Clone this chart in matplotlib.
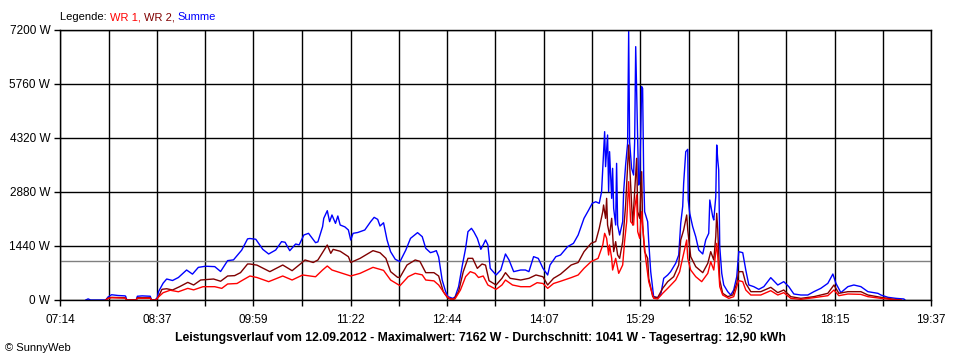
import matplotlib
matplotlib.use("Agg")
import matplotlib.pyplot as plt
from matplotlib.ticker import FixedLocator, NullFormatter

# Leistungsverlauf 12.09.2012, Zeit in Minuten seit Mitternacht
sum_t = [456, 458, 460, 473, 475, 478, 483.5, 489.5, 490, 491, 499, 500, 504, 511, 512,
         515, 517, 518, 522, 525, 530, 535, 542, 547, 552, 558, 566, 571, 577, 582, 589,
         594, 596, 601, 607, 612, 618, 623, 626, 630, 635, 638, 642, 646, 652, 654, 658,
         659, 662, 664, 666, 669, 671, 673, 677, 680, 682, 684, 688, 694, 699, 702, 705,
         707, 710, 713, 716, 720, 724, 729, 733, 739, 743, 746, 750, 753, 755, 757, 760,
         763, 765, 769, 771, 774, 777, 780, 782, 785, 787, 790, 793, 795, 797, 799, 801,
         806, 810, 814, 817, 821, 827, 831, 834, 838, 842, 846, 850, 852, 857, 861, 867,
         872, 876, 881, 885, 888, 891, 894, 896.0, 897.7, 898.6, 899.4, 901.1, 902.0, 902.8,
         904.6, 905.4, 906.3, 908.0, 908.8, 909.7, 911.4, 914.0, 914.8, 916.5, 918.2, 919.1,
         919.9, 921.6, 923.3, 924.2, 925.1, 926.8, 927.6, 928.5, 930.2, 931.0, 931.9, 932.7,
         935.3, 936.2, 937.9, 940.4, 943.8, 946.4, 949.0, 952.4, 954.9, 959.2, 961.8, 963.5,
         965.2, 966.0, 967.8, 969.5, 969.9, 971.2, 973.7, 976.3, 978.9, 982.3, 984.8, 987.4,
         988.3, 990.8, 991.7, 993.4, 994.2, 995.1, 995.9, 996.8, 998.5, 1000.2, 1003.6,
         1006.2, 1008.7, 1011.3, 1013.0, 1016.4, 1019.0, 1021.6, 1025.8, 1030.1, 1034.4,
         1040.3, 1046.3, 1051.4, 1055.7, 1060.0, 1066.0, 1071.9, 1077.1, 1083.0, 1089.0,
         1093.3, 1095.9, 1100.1, 1106.1, 1111.2, 1117.2, 1123.2, 1131.7, 1134.3, 1140.3,
         1147.1, 1153.9, 1154.8]
sum_w = [0, 30, 0, 0, 80, 140, 120, 110, 100, 0, 0, 100, 110, 100, 0,
         0, 60, 220, 450, 560, 520, 600, 800, 690, 870, 900, 890, 760, 1050, 1070, 1330,
         1630, 1640, 1620, 1350, 1227, 1333, 1556, 1540, 1315, 1493, 1470, 1733, 1778, 1529, 1550, 1956,
         2178, 2382, 2089, 2267, 2044, 2240, 2000, 1950, 1867, 1600, 1778, 1800, 1867, 2089, 2204, 2150,
         1973, 2060, 1600, 1289, 1085, 1022, 1333, 1644, 1796, 1689, 1378, 1262, 1290, 1316, 1150, 533,
         222, 89, 44, 80, 355, 889, 1378, 1822, 1911, 1820, 1644, 1351, 1470, 1600, 1470, 844,
         667, 800, 1227, 1070, 756, 800, 800, 756, 1156, 1110, 844, 667, 933, 1156, 1200, 1422,
         1511, 1733, 2178, 2400, 2578, 2620, 2578, 2889, 3956, 4489, 3556, 4400, 2889, 3956,
         2711, 3511, 2444, 2000, 3644, 2000, 1733, 2089, 2889, 3600, 4178, 7162,
         4222, 3511, 3333, 4222, 6756, 4222, 3067, 3156, 5689, 5644, 3333, 2356,
         2089, 1556, 756, 89, 62, 133, 578, 667, 756, 978, 1200, 2044,
         2500, 3111, 3956, 4018, 2667, 2311, 1956, 1689, 1333, 1227, 1600, 1778,
         2667, 2222, 2133, 2756, 4133, 3733, 3467, 1422, 711, 400, 222,
         133, 267, 622, 1289, 1262, 800, 400, 356, 284, 356,
         596, 400, 489, 356, 160, 133, 133, 222, 311, 444,
         693, 444, 196, 356, 400, 356, 222, 178, 133, 71,
         44, 27, 0]

wr2_t = [473, 475, 478, 489.5, 491, 499, 500, 511, 512, 516, 518, 521, 525, 530, 536, 543,
         548, 554, 565, 571, 577, 583, 588, 594, 596, 602, 613, 624, 632, 639, 643, 650,
         654, 662, 665, 667, 673, 680, 682, 690, 701, 707, 712, 716, 722, 724, 730, 737,
         741, 746, 753, 757, 761, 765, 770, 774, 778, 782, 786, 790, 794, 797, 800, 806,
         811, 814, 818, 827, 834, 840, 846, 850, 855, 861, 870, 876, 881, 887, 891, 894,
         897, 897.7, 899.4, 900.3, 901.1, 902.8, 904.6, 906.3, 908.0, 909.7, 911.4, 914.0,
         916.5, 918.2, 919.1, 920.8, 922.5, 924.2, 925.9, 926.8, 928.5, 930.2, 931.0, 932.7,
         935.3, 936.2, 939.6, 943.8, 948.1, 952.4, 957.5, 961.8, 963.5, 966.0, 968.6, 969.5,
         972.0, 976.3, 982.3, 986.6, 989.1, 991.7, 993.4, 994.2, 995.1, 996.8, 999.3, 1003.6,
         1007.9, 1011.3, 1013.0, 1016.4, 1019.0, 1023.3, 1031.8, 1040.3, 1046.3, 1051.4,
         1057.4, 1066.0, 1077.1, 1089.0, 1094.2, 1098.4, 1106.1, 1117.2, 1123.2, 1134.3,
         1145.4, 1151.4]
wr2_w = [0, 50, 70, 60, 0, 0, 60, 60, 0, 0, 90, 285, 300, 267, 355, 470,
         400, 533, 560, 500, 640, 650, 730, 960, 960, 930, 756, 933, 782, 960, 1067, 1000,
         1067, 1467, 1244, 1350, 1300, 1156, 1000, 1111, 1316, 1260, 1111, 756, 604, 604, 933, 1067,
         1030, 729, 729, 640, 222, 40, 20, 222, 756, 1111, 1111, 844, 960, 930, 515, 400,
         578, 729, 578, 533, 578, 667, 620, 400, 578, 690, 933, 1000, 1289, 1511, 1560, 1911,
         2356, 2533, 2178, 2711, 2000, 1733, 2178, 1289, 1556, 1200, 1111, 1556,
         2533, 3600, 4133, 3067, 2000, 2889, 3778, 2356, 2178, 3422, 2000, 1289,
         1111, 578, 89, 62, 311, 489, 622, 933, 1600, 1867, 2267, 1867,
         1156, 889, 729, 978, 1289, 1067, 1689, 2311, 1867, 533, 178, 89,
         133, 444, 756, 756, 444, 222, 222, 338, 196, 267,
         89, 44, 89, 178, 400, 178, 222, 222, 133, 71,
         18, 0]

wr1_t = [473, 475, 478, 489.5, 491, 499, 500, 511, 512, 516, 518, 522, 528, 535, 543, 548,
         556, 566, 572, 577, 585, 589, 596, 602, 612, 624, 632, 641, 652, 658, 662, 666,
         682, 690, 701, 710, 716, 724, 731, 737, 743, 746, 753, 757, 763, 767, 771, 775.6,
         780, 784, 788, 791, 795, 799, 806, 811, 814, 820, 827, 835, 841, 846, 850, 855,
         861, 870, 876, 881, 887, 893, 897, 898.6, 900.3, 902.0, 902.8, 904.6, 905.4, 908.0,
         910.6, 914.0, 915.6, 917.4, 919.1, 920.8, 923.3, 924.2, 925.9, 926.8, 928.5, 930.2,
         931.9, 933.6, 936.2, 940.4, 943.8, 948.1, 952.4, 959.2, 962.6, 963.5, 966.0, 968.6,
         969.5, 972.0, 976.3, 981.4, 986.6, 989.1, 991.7, 994.2, 995.1, 996.8, 999.3, 1004.5,
         1008.7, 1011.3, 1013.0, 1016.4, 1019.0, 1023.3, 1031.8, 1040.3, 1046.3, 1051.4,
         1057.4, 1066.0, 1077.1, 1089.0, 1094.2, 1098.4, 1106.1, 1117.2, 1123.2, 1134.3,
         1145.4, 1151.4]
wr1_w = [0, 40, 60, 50, 0, 0, 45, 45, 0, 0, 80, 195, 260, 220, 310, 270,
         355, 355, 310, 427, 440, 515, 640, 600, 489, 640, 533, 667, 620, 800, 907, 800,
         640, 711, 871, 790, 533, 382, 622, 711, 670, 533, 510, 400, 133, 20, 30, 267,
         622, 756, 710, 600, 640, 400, 284, 400, 533, 400, 355, 355, 462, 440, 311, 440,
         500, 596, 667, 844, 1022, 1110, 1467, 1778, 1644, 1200, 1467, 1111, 800, 1111,
         711, 933, 1556, 2089, 3156, 2089, 2000, 2444, 2800, 1822, 1644, 2356,
         1644, 1111, 489, 44, 27, 178, 311, 533, 756, 889, 1244, 1600,
         1111, 800, 622, 489, 711, 1022, 800, 1511, 1156, 356, 133, 44,
         89, 356, 516, 489, 267, 133, 133, 249, 133, 196,
         44, 18, 62, 115, 267, 115, 160, 150, 89, 44,
         9, 0]

avg_w = 1041
x_labels = ["07:14", "08:37", "09:59", "11:22", "12:44", "14:07", "15:29", "16:52", "18:15", "19:37"]
y_ticks = [0, 1440, 2880, 4320, 5760, 7200]
title = ("Leistungsverlauf vom 12.09.2012 - Maximalwert: 7162 W - "
         "Durchschnitt: 1041 W - Tagesertrag: 12,90 kWh")

plt.rcParams['font.family'] = ['Liberation Sans', 'DejaVu Sans']

fig = plt.figure(figsize=(9.6, 3.6), dpi=100)
ax = fig.add_axes([60 / 960, 60 / 360, 871 / 960, 270 / 360])

major = [int(s[:2]) * 60 + int(s[3:]) for s in x_labels]
minor = [(a + b) / 2 for a, b in zip(major[:-1], major[1:])]
ax.set_xlim(major[0], major[-1])
ax.set_ylim(0, 7200)

ax.xaxis.set_major_locator(FixedLocator(major))
ax.xaxis.set_minor_locator(FixedLocator(minor))
ax.set_xticklabels(x_labels)
ax.xaxis.set_minor_formatter(NullFormatter())
ax.set_yticks(y_ticks)
ax.set_yticklabels(["%d W" % v for v in y_ticks])
ax.tick_params(axis='both', which='both', direction='out', length=4, width=1,
               color='black', labelsize=8.5, pad=3)
ax.tick_params(axis='x', which='major', pad=6)

ax.grid(True, which='both', color='black', linewidth=1)
for s in ax.spines.values():
    s.set_color('black')
    s.set_linewidth(1)

ax.axhline(avg_w, color='#808080', linewidth=1)

ax.plot(sum_t, sum_w, color='#0000FF', linewidth=1)
ax.plot(wr2_t, wr2_w, color='#800000', linewidth=1)
ax.plot(wr1_t, wr1_w, color='#FF0000', linewidth=1)

# Legende mit farbigen Teilen
fig.canvas.draw()
r = fig.canvas.get_renderer()
x0 = 60 / 960
for txt, col in [("Legende: ", "black"), ("WR 1, ", "#FF0000"),
                 ("WR 2, ", "#800000"), ("Summe", "#0000FF")]:
    t = fig.text(x0, 1 - 17 / 360, txt, color=col, fontsize=8, va='center', ha='left')
    bb = t.get_window_extent(renderer=r)
    x0 += bb.width / fig.bbox.width

fig.text(0.5, 1 - 338 / 360, title, fontsize=8.8, fontweight='bold', ha='center', va='center')
fig.text(5 / 960, 1 - 348 / 360, "\u00a9 SunnyWeb", fontsize=8, ha='left', va='center')

fig.savefig("out.png", dpi=100, facecolor='white')
